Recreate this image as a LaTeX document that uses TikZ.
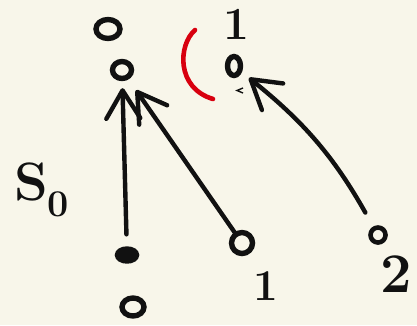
\documentclass[tikz,border=0pt]{standalone}
\usepackage{tikz}
\usetikzlibrary{arrows.meta,shapes.geometric}
\definecolor{skpaper}{HTML}{F8F6EA}
\definecolor{skink}{HTML}{111111}
\definecolor{skred}{HTML}{D8000F}
\begin{document}
\begin{tikzpicture}[x=1pt,y=-1pt,
  ink/.style={draw=skink,line width=5.4pt},
  pt/.style={ink,ellipse,inner sep=0pt},
  lab/.style={text=skink,inner sep=0pt,font=\bfseries},
  arr/.style={ink,line width=4.4pt,line cap=round,line join=round,
    -{Straight Barb[length=28pt,width=34pt,round]}}]
  \fill[skpaper] (0,0) rectangle (417,325);
  \useasboundingbox (0,0) rectangle (417,325);
  % points
  \node[pt,minimum width=24pt,minimum height=19pt] (top0) at (108,29) {};
  \node[pt,minimum width=19pt,minimum height=17pt] (aim) at (122,70) {};
  \node[pt,minimum width=13pt,minimum height=19pt] (aimb) at (234,66) {};
  \node[pt,minimum width=19pt,minimum height=12pt,fill=skink] (s1) at (127,255) {};
  \node[pt,minimum width=22pt,minimum height=18pt] (s0) at (133,307) {};
  \node[pt,minimum width=21pt,minimum height=21pt] (p1) at (242,243) {};
  \node[pt,minimum width=15pt,minimum height=15pt,line width=4.6pt] (p2) at (378,235) {};
  % labels
  \node[lab,anchor=base,font=\bfseries\fontsize{46}{46}\selectfont] (one) at (236,39) {1};
  \node[lab,anchor=base,font=\bfseries\fontsize{44}{44}\selectfont] (onebot) at (266,300) {1};
  \node[lab,anchor=base,font=\bfseries\fontsize{56}{56}\selectfont] (two) at (396,292) {2};
  \node[lab,anchor=base west,font=\bfseries\fontsize{54}{54}\selectfont] (szero) at (14,200) {S\textsubscript{0}};
  % arrows
  \draw[arr,shorten <=12pt,shorten >=7pt] (s1) -- (aim);
  \draw[arr,shorten >=13pt] (p1) -- (aim);
  \draw[arr,shorten <=16pt,shorten >=9pt] (p2) to[bend right=11] (aimb);
  % red bracket and small mark
  \draw[skred,line width=4.6pt,line cap=round] (195,30) .. controls (178,45) and (176,88) .. (213,99);
  \draw[skink,line width=1.4pt] (243,88) -- (237,90.5) -- (243,93);
\end{tikzpicture}
\end{document}
